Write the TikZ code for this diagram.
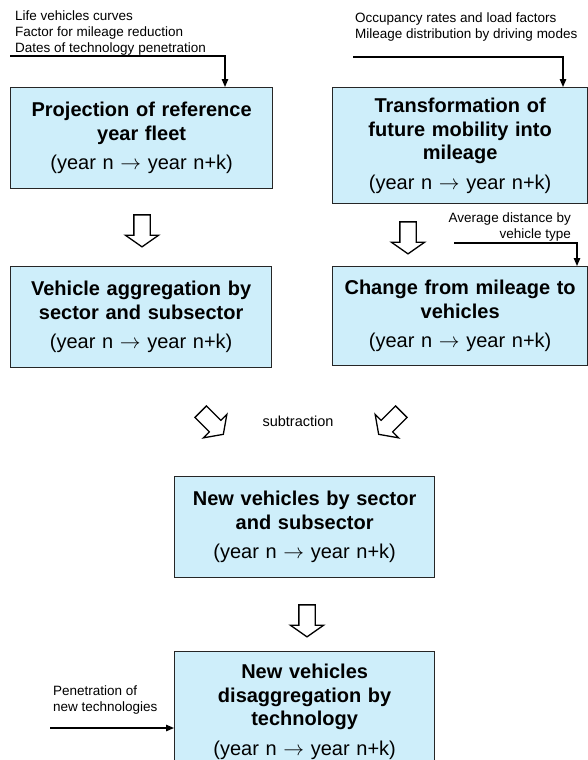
\documentclass[tikz,border=0pt]{standalone}
\usepackage{fontspec}
\setmainfont{Liberation Sans}
\usetikzlibrary{arrows.meta,shapes.arrows}
\definecolor{boxblue}{RGB}{206,238,250}
\newcommand{\yearspan}{{\mdseries (year n $\rightarrow$ year n+k)}}

\begin{document}
\begin{tikzpicture}[x=1pt, y=-1pt, >={Triangle[length=8pt,width=6.5pt]},
  feed/.style={->, line width=1.3pt},
  procbox/.style={draw=black!85, fill=boxblue, line width=1.3pt, anchor=north west, align=center, inner sep=0pt, font=\bfseries\fontsize{20}{23.5}\selectfont},
  note/.style={inner sep=0pt, font=\fontsize{13.5}{16}\selectfont},
  hollow/.style={single arrow, draw, line width=1.3pt, fill=white, inner xsep=0pt, inner ysep=7.5pt, minimum width=0pt, minimum height=32pt, single arrow head extend=8.5pt, single arrow tip angle=110}]
		\useasboundingbox (0,0) rectangle (588,760);
		% process boxes
		\node[procbox, text width=262pt, minimum height=101pt] (fleet)    at (10,87)  {Projection of reference\\year fleet\\[6pt]\yearspan};
		\node[procbox, text width=255pt, minimum height=116pt] (mileage)  at (332,87) {Transformation of\\future mobility into\\mileage\\[6pt]\yearspan};
		\node[procbox, text width=261pt, minimum height=101pt] (aggreg)   at (10,266) {Vehicle aggregation by\\sector and subsector\\[6pt]\yearspan};
		\node[procbox, text width=255pt, minimum height=99pt]  (vehicles) at (332,266) {Change from mileage to\\vehicles\\[6pt]\yearspan};
		\node[procbox, text width=260pt, minimum height=101pt] (newveh)   at (174,476) {New vehicles by sector\\and subsector\\[6pt]\yearspan};
		\node[procbox, text width=260pt, minimum height=120pt] (newtech)  at (174,651) {New vehicles\\disaggregation by\\technology\\[6pt]\yearspan};
		
		% input notes
		\node[note, anchor=north west, align=left]  (lifenote) at (15,11)   {Life vehicles curves\\Factor for mileage reduction\\Dates of technology penetration};
		\node[note, anchor=north west, align=left]  (occnote)  at (355,13)  {Occupancy rates and load factors\\Mileage distribution by driving modes};
		\node[note, anchor=north east, align=right] (avgnote)  at (571,213) {Average distance by\\vehicle type};
		\node[note, anchor=north west, align=left]  (pennote)  at (53,686)  {Penetration of\\new technologies};
		\node[font=\fontsize{14.5}{17}\selectfont] (subtr) at (298,421) {subtraction};
		
		\coordinate (lifein) at (10,56);
		\coordinate (occin)  at (353,57);
		\coordinate (avgin)  at (454,243);
		\coordinate (penin)  at (50,728);
		\draw[feed] (lifein) -| ([xshift=215pt]fleet.north west);
		\draw[feed] (occin)  -| ([xshift=231pt]mileage.north west);
		\draw[feed] (avgin)  -| ([xshift=245pt]vehicles.north west);
		\draw[feed] (penin)  -- (penin -| newtech.west);
		
		% hollow flow arrows
		\node[hollow, rotate=-90]  (flowA) at (142,228) {};
		\node[hollow, rotate=-90]  (flowB) at (408,235) {};
		\node[hollow, rotate=-45]  (subL)  at (210,421) {};
		\node[hollow, rotate=-135] (subR)  at (392,421) {};
		\node[hollow, rotate=-90]  (flowC) at (307,618) {};
		
\end{tikzpicture}
\end{document}
